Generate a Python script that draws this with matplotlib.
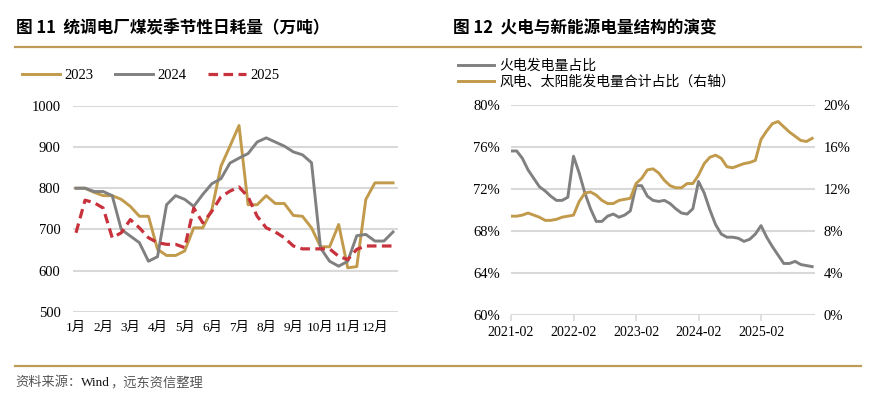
import matplotlib
matplotlib.use("Agg")
import matplotlib.pyplot as plt
from matplotlib.lines import Line2D

W, H = 880, 400

# left chart: 旬度数据 (3 points per month)
months = ["1月", "2月", "3月", "4月", "5月", "6月", "7月", "8月", "9月", "10月", "11月", "12月"]
coal_2023 = [800, 800, 790, 782, 782, 773, 756, 732, 732, 652, 637, 637,
             648, 704, 704, 748, 853, 902, 952, 760, 760, 782, 763, 763,
             734, 732, 704, 658, 658, 712, 607, 610, 773, 813, 813, 813]
coal_2024 = [800, 800, 792, 792, 782, 700, 684, 668, 623, 634, 760, 782,
             773, 756, 785, 811, 823, 861, 873, 884, 912, 922, 912, 902,
             888, 881, 862, 655, 623, 611, 623, 685, 688, 672, 672, 694]
coal_2025 = [692, 771, 765, 752, 680, 692, 724, 704, 680, 668, 664, 664,
             656, 752, 716, 744, 779, 793, 803, 779, 732, 704, 694, 680,
             660, 653, 653, 653, 653, 635, 627, 652, 660, 660, 660, 660]

# right chart: monthly (Feb..Dec each year)
right_ticks = ["2021-02", "2022-02", "2023-02", "2024-02", "2025-02"]
thermal_share = [75.6, 75.6, 74.9, 73.8, 73.0, 72.2, 71.8, 71.3, 70.9, 70.9, 71.2,
                 75.1, 73.5, 71.6, 70.1, 68.9, 68.9, 69.4, 69.6, 69.3, 69.5, 69.9,
                 72.3, 72.3, 71.3, 70.9, 70.8, 70.9, 70.6, 70.1, 69.7, 69.6, 70.1,
                 72.7, 71.6, 70.0, 68.6, 67.7, 67.4, 67.4, 67.3, 67.0, 67.2, 67.7,
                 68.5, 67.4, 66.5, 65.7, 64.9, 64.9, 65.1, 64.8, 64.7, 64.6]
wind_solar_share = [9.4, 9.4, 9.5, 9.7, 9.5, 9.3, 9.0, 9.0, 9.1, 9.3, 9.4,
                    9.5, 10.8, 11.6, 11.7, 11.4, 10.9, 10.6, 10.6, 10.9, 11.0, 11.1,
                    12.5, 13.0, 13.8, 13.9, 13.5, 12.8, 12.3, 12.1, 12.1, 12.5, 12.5,
                    13.3, 14.4, 15.0, 15.2, 14.9, 14.1, 14.0, 14.2, 14.4, 14.5, 14.7,
                    16.7, 17.5, 18.2, 18.4, 17.9, 17.4, 17.0, 16.6, 16.5, 16.8]

GOLD = "#C19A4B"
GREY = "#808080"
RED = "#C8323C"
RULE = "#BF9B5A"
GRID = "#D9D9D9"
SERIF = ["Liberation Serif", "Noto Sans CJK SC"]
CJK = ["Noto Sans CJK SC", "Liberation Serif"]


def rect(x0, y0, x1, y1):
    # pixel box (top-left origin) -> figure fraction
    return [x0 / W, 1 - y1 / H, (x1 - x0) / W, (y1 - y0) / H]


fig = plt.figure(figsize=(W / 100, H / 100), dpi=100)

# titles and rules
fig.text(16 / W, 1 - 28 / H, "图 11  统调电厂煤炭季节性日耗量（万吨）", family=CJK,
         weight="bold", fontsize=12, va="center")
fig.text(453 / W, 1 - 28 / H, "图 12  火电与新能源电量结构的演变", family=CJK,
         weight="bold", fontsize=12, va="center")
fig.add_artist(Line2D([15 / W, 861 / W], [1 - 46.5 / H] * 2, color=RULE, lw=1.6))
fig.add_artist(Line2D([15 / W, 861 / W], [1 - 365.5 / H] * 2, color=RULE, lw=1.6))

# source line, "Wind" darker than the rest
renderer = fig.canvas.get_renderer()
xpos = 15
for part, col in [("资料来源：", "#555555"), ("Wind", "#111111"), ("，远东资信整理", "#555555")]:
    t = fig.text(xpos / W, 1 - 383 / H, part, family=SERIF, fontsize=9.5, color=col,
                 va="center")
    xpos += t.get_window_extent(renderer).width

# ---- left chart
ax = fig.add_axes(rect(73, 105.7, 398, 312))
x = list(range(len(coal_2023)))
l1, = ax.plot(x, coal_2023, color=GOLD, lw=2.1, label="2023")
l2, = ax.plot(x, coal_2024, color=GREY, lw=2.1, label="2024")
l3, = ax.plot(x, coal_2025, color=RED, lw=2.3, ls=(0, (3, 1.7)), label="2025")
ax.set_xlim(-0.33, 35.55)
ax.set_ylim(500, 1000)
ax.set_yticks(range(500, 1001, 100))
ax.set_xticks(range(0, 36, 3))
ax.set_xticklabels(months, family=SERIF, fontsize=9.5)
ax.tick_params(axis="x", length=0, pad=7)
ax.tick_params(axis="y", length=0, pad=9, labelsize=10.5)
for t in ax.get_yticklabels():
    t.set_family(SERIF)
ax.yaxis.grid(True, color=GRID, lw=1.5)
ax.set_axisbelow(True)
for s in ax.spines.values():
    s.set_visible(False)
ax.patch.set_alpha(0)
fig.legend(handles=[l1, l2, l3], loc="center left", bbox_to_anchor=(22 / W, 1 - 75 / H),
           ncol=3, frameon=False, prop={"family": SERIF, "size": 10.5},
           handlelength=2.6, handletextpad=0.3, columnspacing=1.5,
           borderpad=0, borderaxespad=0)

# ---- right chart
ax2 = fig.add_axes(rect(511, 104.7, 815, 315))
xr = list(range(len(thermal_share)))
ax2.yaxis.grid(True, color=GRID, lw=1.5)
ax2.set_axisbelow(True)
r1, = ax2.plot(xr, thermal_share, color=GREY, lw=2.1, label="火电发电量占比")
ax2.set_xlim(0, 53.5)
ax2.set_ylim(60, 80)
ax2.set_yticks(range(60, 81, 4))
ax2.set_yticklabels([f"{v}%" for v in range(60, 81, 4)], family=SERIF, fontsize=10.5)
ax2.set_xticks([0, 11, 22, 33, 44])
ax2.set_xticklabels(right_ticks, family=SERIF, fontsize=10)
ax2.tick_params(axis="x", length=4, color=GRID, width=1.2, pad=4)
ax2.tick_params(axis="y", length=0, pad=8)
for s in ax2.spines.values():
    s.set_visible(False)

ax3 = ax2.twinx()
r2, = ax3.plot(xr, wind_solar_share, color=GOLD, lw=2.1, label="风电、太阳能发电量合计占比（右轴）")
ax3.set_ylim(0, 20)
ax3.set_yticks(range(0, 21, 4))
ax3.set_yticklabels([f"{v}%" for v in range(0, 21, 4)], family=SERIF, fontsize=10.5)
ax3.tick_params(axis="y", length=0, pad=6)
for s in ax3.spines.values():
    s.set_visible(False)

fig.legend(handles=[r1, r2], loc="center left", bbox_to_anchor=(458 / W, 1 - 73.5 / H),
           ncol=1, frameon=False, prop={"family": CJK, "size": 10},
           handlelength=2.6, handletextpad=0.4, labelspacing=0.15,
           borderpad=0, borderaxespad=0)

fig.savefig("out.png", dpi=100)
